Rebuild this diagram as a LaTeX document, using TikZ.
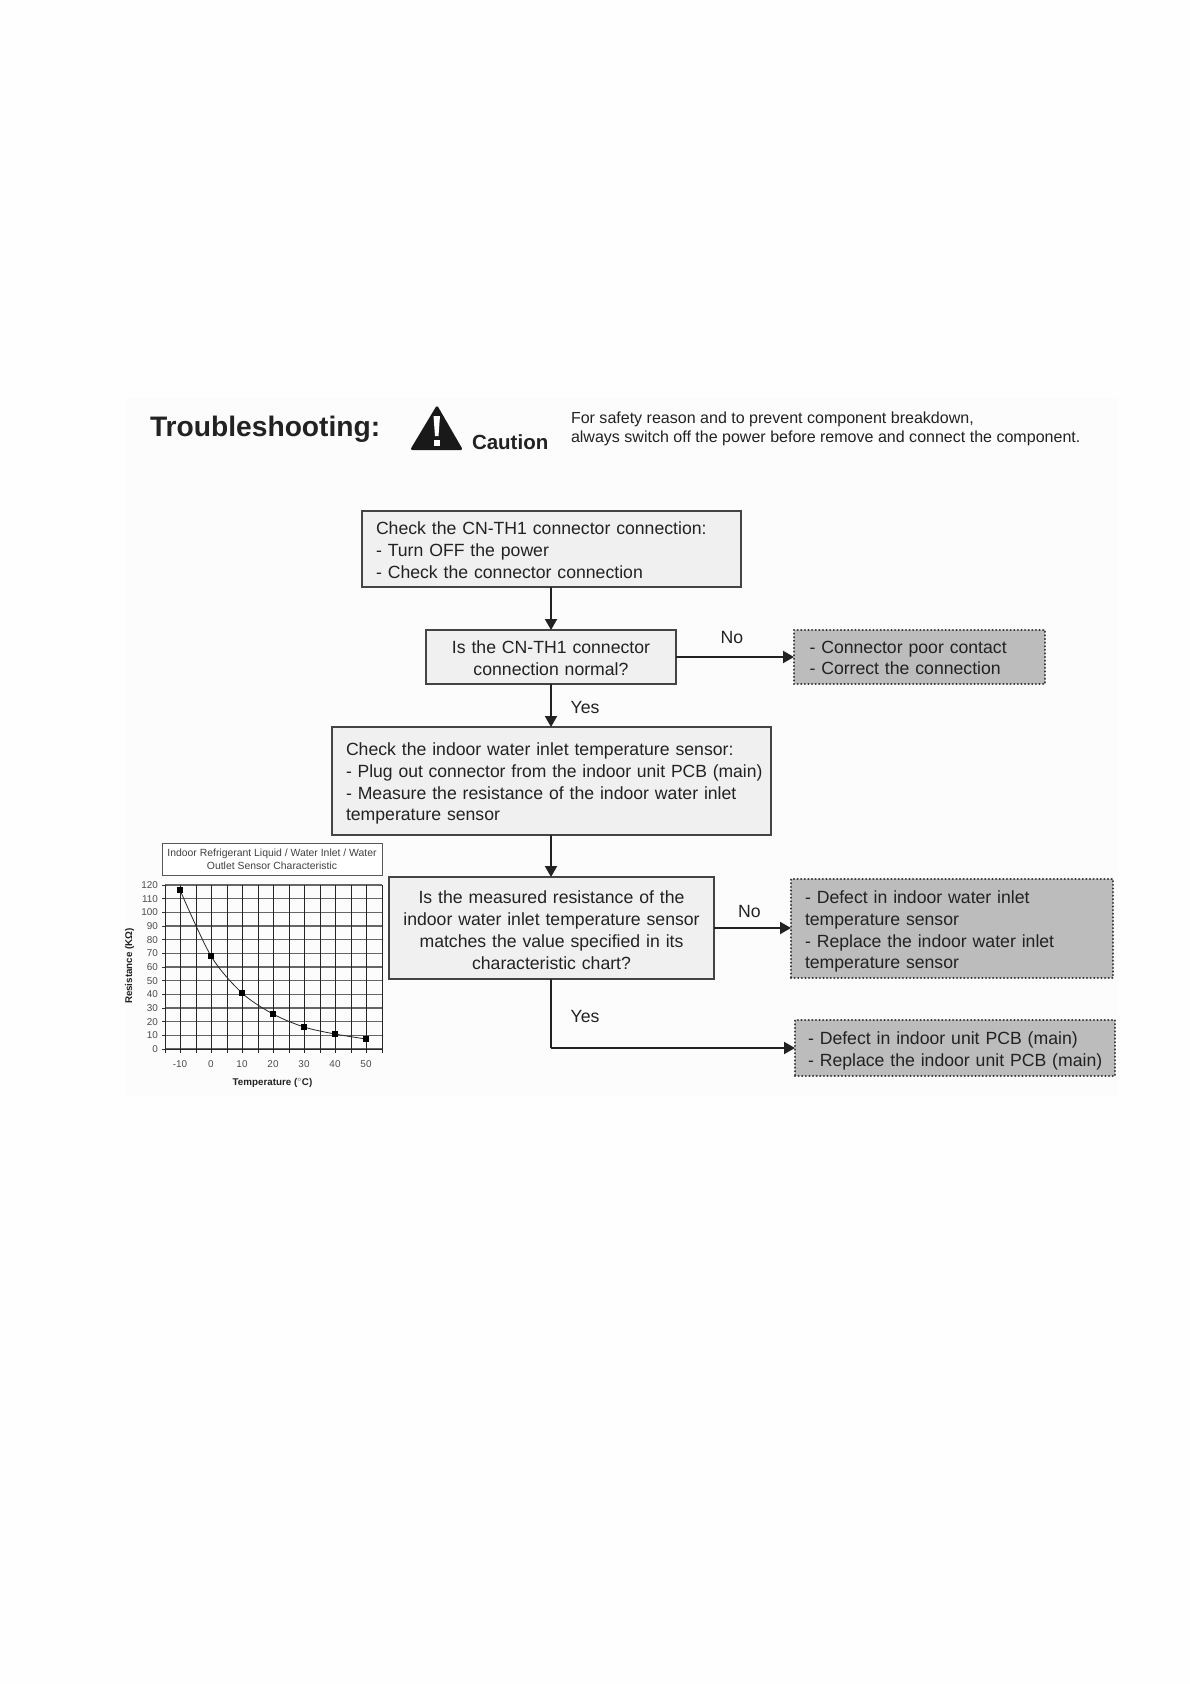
\documentclass[tikz,border=0pt]{standalone}
\usepackage{fontspec}
\setmainfont{Liberation Sans}
\usetikzlibrary{arrows.meta}
\definecolor{ink}{HTML}{222222}
\definecolor{paper}{HTML}{FEFEFE}
\definecolor{panel}{HTML}{FCFCFC}
\definecolor{boxfill}{HTML}{F0F0F0}
\definecolor{endfill}{HTML}{BDBCBD}
\definecolor{edge}{HTML}{444444}
\tikzset{
  x=1pt,y=-1pt,
  every node/.style={text=ink,outer sep=0pt},
  body/.style={font=\fontsize{17.65}{21.7}\selectfont},
  drop/.style={execute at begin node={\rule{0pt}{#1}}},
  stepbox/.style={body,draw=edge,line width=1.3pt,fill=boxfill,inner xsep=0pt,inner ysep=0pt,align=left},
  askbox/.style={stepbox,align=center},
  endbox/.style={body,draw=black!80,line width=2.5pt,line cap=round,dash pattern=on 0.01pt off 3.6pt,fill=endfill,inner sep=0pt,align=left},
  flow/.style={draw=ink,line width=2pt,-{Triangle[length=11pt,width=12pt]}},
  lbl/.style={body,inner sep=0pt},
  tick/.style={font=\fontsize{9.9}{11}\selectfont,text=black!70,inner sep=0pt},
  axt/.style={font=\fontsize{9.8}{11}\bfseries\selectfont,inner sep=0pt},
}
\begin{document}
\begin{tikzpicture}
\useasboundingbox (0,0) rectangle (1190,1684);
\fill[paper] (0,0) rectangle (1190,1684);
\fill[panel] (125,398) rectangle (1118,1096);

% header
\node[anchor=base west,font=\fontsize{28.2}{30}\bfseries\selectfont,inner sep=0pt] (title) at (150,436) {Troubleshooting:};
\fill[black!90,rounded corners=2.5pt] (437,405) -- (463,450) -- (410,450) -- cycle;
\fill[white] (433.5,416) -- (440,416) -- (438.5,436) -- (435,436) -- cycle;
\fill[white] (433.8,440) rectangle (439.8,446);
\node[anchor=base west,font=\fontsize{20.5}{22}\bfseries\selectfont,inner sep=0pt] (caution) at (472,449) {Caution};
\node[anchor=west,font=\fontsize{16.03}{19.6}\selectfont,align=left,inner sep=0pt] (warn) at (571,429) {For safety reason and to prevent component breakdown,\\always switch off the power before remove and connect the component.};

% flow
\node[stepbox,drop=15.1pt,minimum width=379pt,minimum height=76pt,text width=351pt] (a) at (551.5,549) {Check the CN-TH1 connector connection:\\- Turn OFF the power\\- Check the connector connection};
\node[askbox,drop=15.1pt,minimum width=250pt,minimum height=54pt,text width=240pt] (b) at (551,657) {Is the CN-TH1 connector\\connection normal?};
\node[stepbox,drop=18.1pt,minimum width=439pt,minimum height=108pt,text width=411pt] (c) at (551.5,781) {Check the indoor water inlet temperature sensor:\\\makebox[411pt][l]{\scalebox{.992}[1]{- Plug out connector from the indoor unit PCB (main)}}\\- Measure the resistance of the indoor water inlet\\temperature sensor};
\node[askbox,drop=17.1pt,minimum width=325pt,minimum height=102pt,text width=315pt] (d) at (551.5,928) {Is the measured resistance of the\\indoor water inlet temperature sensor\\matches the value specified in its\\characteristic chart?};
\node[endbox,drop=14.3pt,minimum width=251pt,minimum height=54pt,text width=220pt] (e) at (919.5,657) {- Connector poor contact\\- Correct the connection};
\node[endbox,drop=19.3pt,minimum width=322pt,minimum height=99pt,text width=294pt] (f) at (952,928.5) {- Defect in indoor water inlet\\temperature sensor\\- Replace the indoor water inlet\\temperature sensor};
\node[endbox,drop=18.9pt,minimum width=320pt,minimum height=56pt,text width=294pt] (g) at (955,1048) {- Defect in indoor unit PCB (main)\\\makebox[294pt][l]{- Replace the indoor unit PCB (main)}};
\coordinate (corner) at (551,1048);

\draw[flow] (a.south -| b.north) -- (b.north);
\draw[flow] (b.south) -- (b.south |- c.north);
\draw[flow] (c.south -| b.south) -- (b.south |- d.north);
\draw[flow] (b.east) -- (b.east -| e.west);
\draw[flow] (d.east) -- (d.east -| f.west);
\draw[flow,-] (b.south |- d.south) -- (corner);
\draw[flow] (corner) -- (g.west);

\node[lbl] (no1) at (732,638) {No};
\node[lbl] (yes1) at (585,708) {Yes};
\node[lbl] (no2) at (749.5,911.5) {No};
\node[lbl] (yes2) at (585,1017) {Yes};

% chart
\node[draw=black!65,line width=0.7pt,fill=white,minimum width=220pt,minimum height=32pt,inner sep=0pt,align=center,font=\fontsize{10.4}{13}\selectfont,text=black!75] (charttitle) at (272,859) {Indoor Refrigerant Liquid / Water Inlet / Water\\Outlet Sensor Characteristic};
\foreach \i in {0,...,12}{
  \draw[black!60,line width=1.1pt] (165,{1049-\i*13.67}) -- (382,{1049-\i*13.67});
  \pgfmathtruncatemacro{\v}{\i*10}
  \node[tick,anchor=east] (yt\i) at (158,{1049-\i*13.67}) {\v};
  \draw[black!80,line width=0.6pt] (162,{1049-\i*13.67}) -- (165,{1049-\i*13.67});
}
\foreach \i in {0,...,14}{
  \draw[black!85,line width=0.7pt] ({165+\i*15.5},885) -- ({165+\i*15.5},1053);
}
\draw[black!85,line width=0.8pt] (165,885) -- (165,1049) -- (382,1049);
\draw[black!85,line width=0.8pt] plot[smooth,tension=0.5] coordinates {(180,890) (211,956) (242,993) (273,1014) (304,1027) (335,1034) (366,1039)};
\foreach \x/\y in {180/890,211/956,242/993,273/1014,304/1027,335/1034,366/1039}{
  \fill[black] (\x-2.6,\y-2.6) rectangle (\x+2.6,\y+2.6);
}
\foreach \n/\t/\x in {a/-10/180,b/0/211,c/10/242,d/20/273,e/30/304,f/40/335,g/50/366}{
  \node[tick] (xt\n) at (\x,1064) {\t};
}
\node[axt] (xlabel) at (272.5,1083) {Temperature ($^{\circ}$C)};
\node[axt,rotate=90] (ylabel) at (129.5,966) {Resistance (KΩ)};
\end{tikzpicture}
\end{document}
